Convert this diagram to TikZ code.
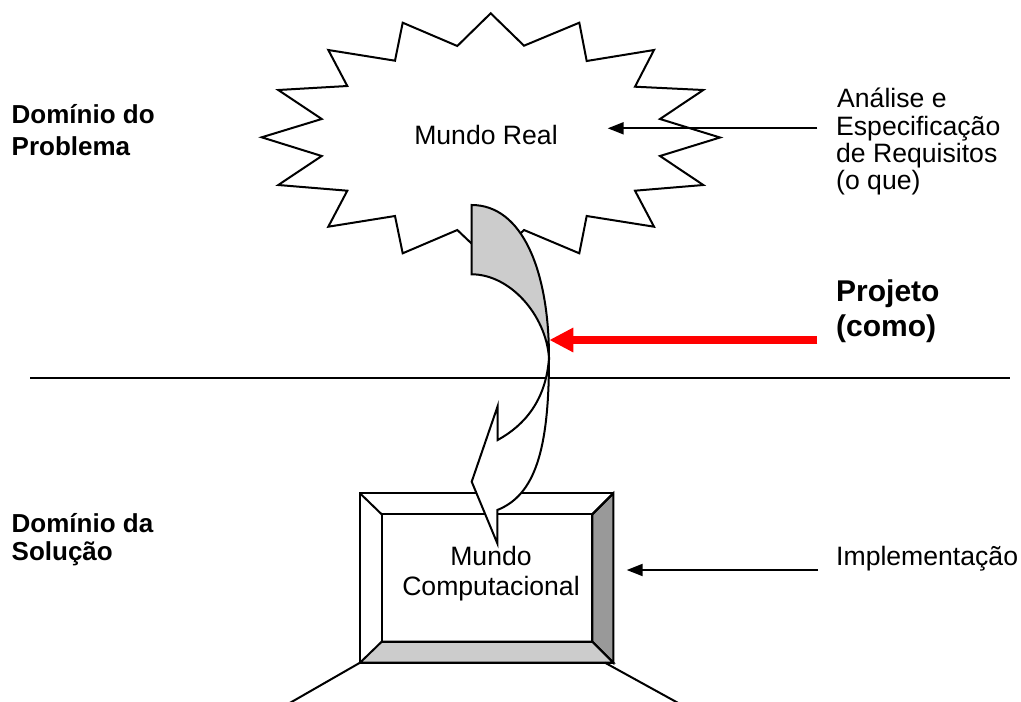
\documentclass[tikz,border=0pt]{standalone}
\usepackage{fontspec}
\setmainfont{Liberation Sans}
\usetikzlibrary{arrows.meta}
\definecolor{arrowgray}{HTML}{CCCCCC}
\definecolor{bevellight}{HTML}{CCCCCC}
\definecolor{beveldark}{HTML}{999999}
\begin{document}
\begin{tikzpicture}[x=1pt,y=-1pt,line join=miter,
  outline/.style={draw=black,line width=2pt},
  lbl/.style={inner sep=0pt,anchor=base west,font=\fontsize{26.6}{27}\selectfont},
  lblb/.style={inner sep=0pt,anchor=base west,font=\fontsize{26}{27}\selectfont\bfseries},
  lblbig/.style={inner sep=0pt,anchor=base west,font=\fontsize{30}{34}\selectfont\bfseries},
  lblc/.style={inner sep=0pt,anchor=base,font=\fontsize{26.6}{27}\selectfont},
  blackarrow/.style={draw=black,line width=2pt,-{Triangle[length=16pt,width=12pt]}},
  redarrow/.style={draw=red,line width=7.5pt,-{Triangle[length=24pt,width=23pt]}}]
\useasboundingbox (0,0) rectangle (1021,702);
\fill[white] (0,0) rectangle (1021,702);

% dividing line
\coordinate (divL) at (30,378.3);
\coordinate (divR) at (1010,378.3);
\draw[line width=2pt] (divL) -- (divR);

% star (Mundo Real)
\draw[outline,fill=white]
  (490.7,13.3) -- (524,45.7) -- (579.3,22.7) -- (586.7,61) -- (654,50) -- (635,86.7)
  -- (703.3,90) -- (660,119) -- (720,137.5) -- (660,156) -- (703.3,185) -- (635,190.7)
  -- (654,226.7) -- (586.7,216) -- (579.3,253.3) -- (524,230) -- (490.7,261.7)
  -- (457.3,230) -- (402.7,253.3) -- (395,216) -- (328.3,226.7) -- (347.3,190.7)
  -- (278.3,185) -- (321.7,156) -- (261.7,137.3) -- (321.7,119) -- (278.3,90)
  -- (347.3,86) -- (328.3,50) -- (395,60.7) -- (402.7,22.7) -- (457.3,46) -- cycle;
\node[lblc] (mr) at (486,144) {Mundo Real};

% framed box (Mundo Computacional)
\coordinate (bo1) at (360,493.3);
\coordinate (bo2) at (613.3,493.3);
\coordinate (bo3) at (613.3,662.7);
\coordinate (bo4) at (360,662.7);
\coordinate (bi1) at (381.7,514.3);
\coordinate (bi2) at (592.3,514.3);
\coordinate (bi3) at (592.3,641.7);
\coordinate (bi4) at (381.7,641.7);
\draw[outline,fill=white] (bo1) -- (bo2) -- (bo3) -- (bo4) -- cycle;
\draw[outline,fill=beveldark] (bo2) -- (bo3) -- (bi3) -- (bi2) -- cycle;
\draw[outline,fill=bevellight] (bo4) -- (bo3) -- (bi3) -- (bi4) -- cycle;
\draw[outline] (bi1) -- (bi2) -- (bi3) -- (bi4) -- cycle;
\draw[outline] (bo1) -- (bi1);
\draw[outline] (bo2) -- (bi2);
\coordinate (legL) at (288,704);
\coordinate (legR) at (680,704);
\coordinate (legRs) at (605,662.7);
\draw[outline] (bo4) -- (legL);
\draw[outline] (legRs) -- (legR);
\node[lblc] (mc1) at (491,565) {Mundo};
\node[lblc] (mc2) at (491,595) {Computacional};

% curved arrow
\coordinate (P) at (549,358);
\draw[outline,fill=arrowgray]
  (471.7,205) .. controls (522,205) and (549,270) .. (P)
  .. controls (546,315) and (510,274.3) .. (471.7,274.3) -- cycle;
\draw[outline,fill=white]
  (P) .. controls (549,450) and (535,495) .. (497.3,510)
  -- (497.3,543.3) -- (471.7,481.7) -- (497.7,406) -- (497.7,440)
  .. controls (525,425) and (546,400) .. (P) -- cycle;

% labels left
\node[lblb] (dp1) at (11.5,123.5) {Domínio do};
\node[lblb] (dp2) at (11.5,155) {Problema};
\node[lblb] (ds1) at (11.5,532) {Domínio da};
\node[lblb] (ds2) at (11.5,560) {Solução};

% labels right
\node[lbl] (an1) at (837,107.5) {Análise e};
\node[lbl] (an2) at (836,135) {Especificação};
\node[lbl] (an3) at (836,162) {de Requisitos};
\node[lbl] (an4) at (836,189) {(o que)};
\node[lblbig] (pj1) at (836,301.7) {Projeto};
\node[lblbig] (pj2) at (836,336.5) {(como)};
\node[lbl] (im) at (836,565) {Implementação};

% arrows
\coordinate (a1s) at (817.3,128.3);
\coordinate (a1e) at (607.7,128.3);
\draw[blackarrow] (a1s) -- (a1e);
\coordinate (a2s) at (817.3,340);
\coordinate (a2e) at (549.3,340);
\draw[redarrow] (a2s) -- (a2e);
\coordinate (a3s) at (818,570);
\coordinate (a3e) at (626.7,570);
\draw[blackarrow] (a3s) -- (a3e);
\end{tikzpicture}
\end{document}
